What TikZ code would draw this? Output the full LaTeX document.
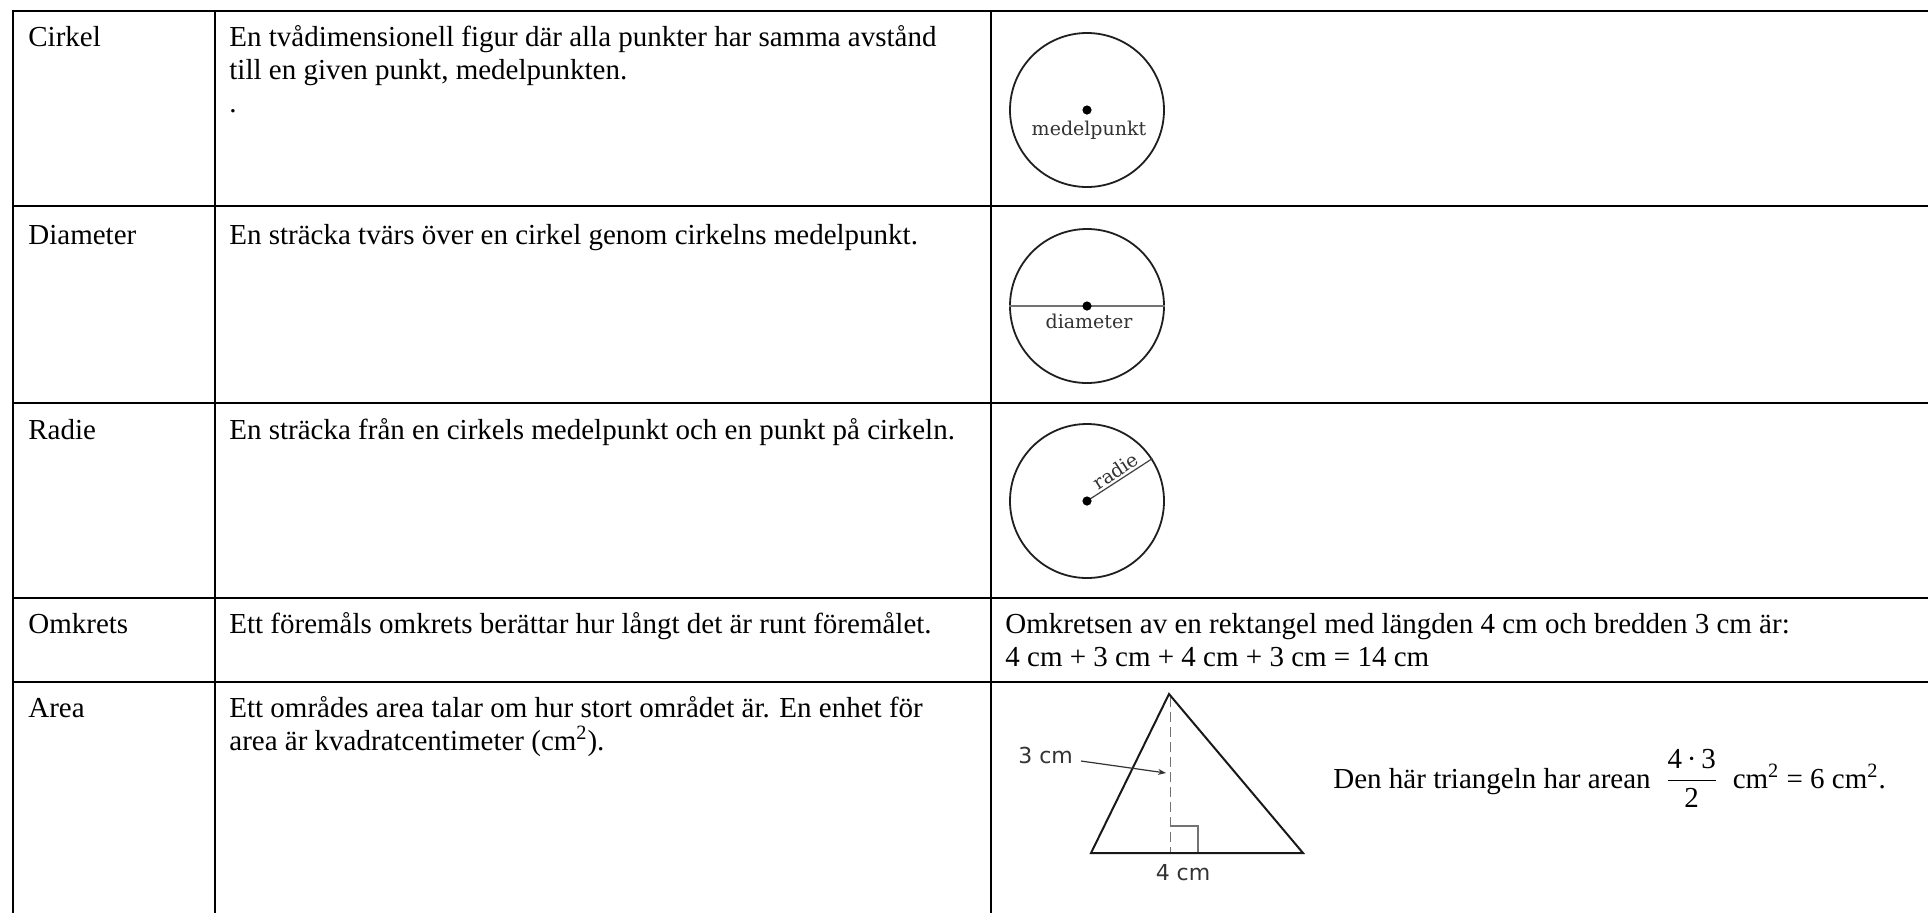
\documentclass[tikz,border=0pt]{standalone}
\usepackage{fontspec}
\setmainfont{Liberation Serif}
\newfontfamily\slabfont{DejaVu Serif}
\newfontfamily\labsans{DejaVu Sans}
\usetikzlibrary{arrows.meta}
\begin{document}
\begin{tikzpicture}[x=0.5pt,y=-0.5pt,
  gridline/.style={line width=1.1pt, black},
  txt/.style={anchor=base west, inner sep=0pt, font=\fontsize{14.5}{16.5}\selectfont},
  circ/.style={circle, draw=black!88, line width=0.9pt, minimum size=77pt, inner sep=0pt},
  cdot/.style={fill=black},
  clabel/.style={font=\slabfont\fontsize{9.5}{11}\selectfont, text=black!80, inner sep=0pt, anchor=base},
  thin/.style={line width=0.5pt, black!55},
  tri/.style={line width=1pt, black!90},
  tlabel/.style={font=\labsans\fontsize{11}{13}\selectfont, text=black!80, inner sep=0pt}
]
\path[use as bounding box, fill=white] (0,0) rectangle (1928,912);
\begin{scope}
\clip (0,0) rectangle (1928,912);
% table grid
\foreach \yy in {11,206,403,598,682}
  \draw[gridline] (12,\yy) -- (1940,\yy);
\foreach \xx in {13,215,991}
  \draw[gridline] (\xx,10) -- (\xx,930);
\end{scope}

% row 1
\node[txt] (t1a) at (28,46) {Cirkel};
\node[txt] (t1b) at (229,46) {En tvådimensionell figur där alla punkter har samma avstånd};
\node[txt] (t1c) at (229,79) {till en given punkt, medelpunkten.};
\node[txt] (t1d) at (229,112) {.};
\node[circ] (c1) at (1087,110) {};
\fill[cdot] (c1.center) circle[radius=4.6];
\node[clabel] (l1) at (1089,135) {medelpunkt};

% row 2
\node[txt] (t2a) at (28,244) {Diameter};
\node[txt] (t2b) at (229,244) {En sträcka tvärs över en cirkel genom cirkelns medelpunkt.};
\node[circ] (c2) at (1087,306) {};
\draw[thin, line width=0.7pt] (c2.west) -- (c2.east);
\fill[cdot] (c2.center) circle[radius=4.6];
\node[clabel] (l2) at (1089,328) {diameter};

% row 3
\node[txt] (t3a) at (28,439) {Radie};
\node[txt] (t3b) at (229,439) {En sträcka från en cirkels medelpunkt och en punkt på cirkeln.};
\node[circ] (c3) at (1087,501) {};
\draw[thin, line width=0.6pt, black!75] (c3.center) -- node[sloped, above=1pt, pos=0.52, font=\slabfont\fontsize{9.5}{11}\selectfont, text=black!80, inner sep=0pt] (l3) {radie} (c3.33);
\fill[cdot] (c3.center) circle[radius=4.6];

% row 4
\node[txt] (t4a) at (28,633) {Omkrets};
\node[txt] (t4b) at (229,633) {Ett föremåls omkrets berättar hur långt det är runt föremålet.};
\node[txt] (t4c) at (1005,633) {Omkretsen av en rektangel med längden 4 cm och bredden 3 cm är:};
\node[txt] (t4d) at (1005,666) {4 cm + 3 cm + 4 cm + 3 cm = 14 cm};

% row 5
\node[txt] (t5a) at (28,717) {Area};
\node[txt] (t5b) at (229,717) {Ett områdes area talar om hur stort området är. En enhet för};
\node[txt] (t5c) at (229,750) {area är kvadratcentimeter (cm\textsuperscript{2}).};
\node[txt] (t5d) at (1333,788) {Den här triangeln har arean \ $\displaystyle\frac{\mbox{4\,·\,3}}{\mbox{2}}$\ \ cm\textsuperscript{2} = 6 cm\textsuperscript{2}.};

% triangle
\coordinate (A) at (1169,694);
\coordinate (B) at (1091,853);
\coordinate (C) at (1303,853);
\coordinate (H) at (1170,697);
\coordinate (F) at (1170,853);
\draw[thin, dash pattern=on 5pt off 2.5pt] (H) -- (F);
\draw[thin, line width=0.6pt] (1170,826) -- (1198,826) -- (1198,853);
\draw[tri, line join=miter] (A) -- (B) -- (C) -- cycle;
\node[tlabel, anchor=base west] (h3) at (1018,763) {3 cm};
\node[tlabel, anchor=base] (b4) at (1183,880) {4 cm};
\coordinate (ar1) at (1081,761);
\coordinate (ar2) at (1166,773);
\draw[line width=0.6pt, black!80, -{Stealth[length=4pt,width=3pt]}] (ar1) -- (ar2);
\end{tikzpicture}
\end{document}
